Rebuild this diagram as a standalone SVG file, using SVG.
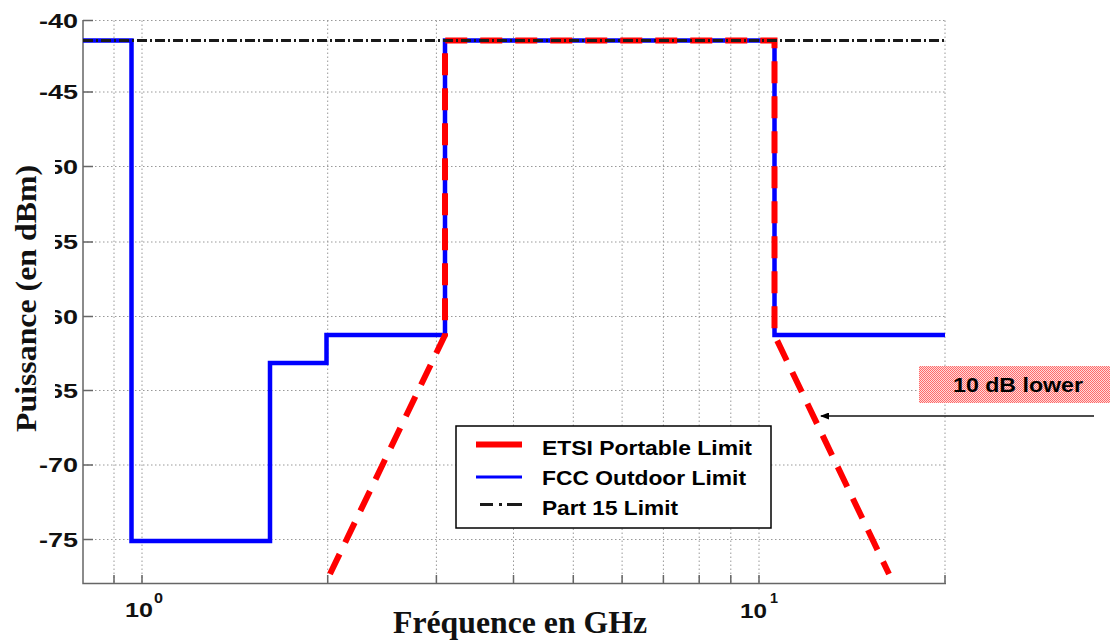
<svg xmlns="http://www.w3.org/2000/svg" width="1110" height="641" viewBox="0 0 1110 641">
<style>
.grid{stroke:#999;stroke-width:1;stroke-dasharray:1.5 2.5;fill:none}
.axis{stroke:#666;stroke-width:1.5;fill:none}
.tk{font-family:"Liberation Sans",Arial,sans-serif;font-weight:bold;font-size:20px;fill:#111}
.lab{font-family:"Liberation Serif","Times New Roman",serif;font-weight:bold;fill:#111}
.fcc{stroke:#0000ff;stroke-width:4.5;fill:none;stroke-linejoin:miter}
.etsi{stroke:#ff0000;stroke-width:6;fill:none;stroke-dasharray:22 13}
.p15{stroke:#1a1a1a;stroke-width:3;fill:none;stroke-dasharray:10 3 2 3}
.leg{font-family:"Liberation Sans",Arial,sans-serif;font-weight:bold;font-size:19.5px;fill:#000}
</style>
<defs>
<pattern id="hatch" width="2" height="2" patternUnits="userSpaceOnUse">
<rect width="2" height="2" fill="#ffdada"/>
<rect width="1" height="1" fill="#ff6a6a"/>
<rect x="1" y="1" width="1" height="1" fill="#ff6a6a"/>
</pattern>
<marker id="arr" markerWidth="9" markerHeight="7" refX="8" refY="3.5" orient="auto" markerUnits="userSpaceOnUse">
<path d="M0,0 L9,3.5 L0,7 z" fill="#000"/>
</marker>
</defs>
<rect width="1110" height="641" fill="#fff"/>

<g id="grid">
<path class="grid" d="M83,20.5H945 M83,92H945 M83,166.5H945 M83,242H945 M83,316.5H945 M83,390.5H945 M83,465H945 M83,539.5H945"/>
<path class="grid" d="M114,20.5V583 M142,20.5V583 M327.7,20.5V583 M436.4,20.5V583 M513.5,20.5V583 M573.3,20.5V583 M622.1,20.5V583 M663.4,20.5V583 M699.2,20.5V583 M730.8,20.5V583 M759,20.5V583 M945,20.5V583"/>
</g>

<g id="axes">
<path class="axis" d="M83,20V583.5H946"/>
<path class="axis" d="M83,20.5H93 M83,92H93 M83,166.5H93 M83,242H93 M83,316.5H93 M83,390.5H93 M83,465H93 M83,539.5H93"/>
<path class="axis" d="M114,583V575 M142,583V575 M327.7,583V575 M436.4,583V575 M513.5,583V575 M573.3,583V575 M622.1,583V575 M663.4,583V575 M699.2,583V575 M730.8,583V575 M759,583V575 M945,583V575"/>
<g id="yticks">
<text class="tk" x="39" y="27.5" textLength="39" lengthAdjust="spacingAndGlyphs">-40</text>
<text class="tk" x="39" y="99" textLength="39" lengthAdjust="spacingAndGlyphs">-45</text>
<text class="tk" x="39" y="173.5" textLength="39" lengthAdjust="spacingAndGlyphs">-50</text>
<text class="tk" x="39" y="249" textLength="39" lengthAdjust="spacingAndGlyphs">-55</text>
<text class="tk" x="39" y="323.5" textLength="39" lengthAdjust="spacingAndGlyphs">-60</text>
<text class="tk" x="39" y="397.5" textLength="39" lengthAdjust="spacingAndGlyphs">-65</text>
<text class="tk" x="39" y="472" textLength="39" lengthAdjust="spacingAndGlyphs">-70</text>
<text class="tk" x="39" y="546.5" textLength="39" lengthAdjust="spacingAndGlyphs">-75</text>
</g>
<g id="xticks">
<text class="tk" x="125" y="617" style="font-size:21px" textLength="28" lengthAdjust="spacingAndGlyphs">10</text>
<text class="tk" x="154" y="603" style="font-size:15px" textLength="9" lengthAdjust="spacingAndGlyphs">0</text>
<text class="tk" x="740" y="618" style="font-size:21px" textLength="27" lengthAdjust="spacingAndGlyphs">10</text>
<text class="tk" x="770" y="603" style="font-size:15px" textLength="8" lengthAdjust="spacingAndGlyphs">1</text>
</g>
</g>

<g id="ylabel">
<rect x="0" y="140" width="55" height="300" fill="#fff"/>
<text class="lab" transform="translate(36,298.5) rotate(-90)" x="0" y="0" text-anchor="middle" style="font-size:30px" textLength="267" lengthAdjust="spacingAndGlyphs">Puissance (en dBm)</text>
</g>
<g id="xlabel">
<text class="lab" x="520" y="633" text-anchor="middle" style="font-size:31px" textLength="254" lengthAdjust="spacingAndGlyphs">Fréquence en GHz</text>
</g>

<g id="curves">
<path id="fcc" class="fcc" d="M83,40.5H131.5V541H270V363H326.5V335H445V40.5H774.5V335H945"/>
<path id="etsi" class="etsi" d="M330,574L445,335V40.5H774.5V335L889,574"/>
<path id="part15" class="p15" d="M83,40.5H945"/>
</g>

<g id="legend">
<rect x="456" y="426" width="315" height="102" fill="#fff" stroke="#000" stroke-width="1.5"/>
<line x1="476" y1="444.5" x2="522" y2="444.5" stroke="#ff0000" stroke-width="6"/>
<text class="leg" x="542" y="455" textLength="210" lengthAdjust="spacingAndGlyphs">ETSI Portable Limit</text>
<line x1="476" y1="477" x2="522" y2="477" stroke="#0000ff" stroke-width="3"/>
<text class="leg" x="542" y="485" textLength="204" lengthAdjust="spacingAndGlyphs">FCC Outdoor Limit</text>
<line x1="480" y1="504.5" x2="522" y2="504.5" stroke="#1a1a1a" stroke-width="3" stroke-dasharray="13 6 3 5 20"/>
<text class="leg" x="542" y="515" textLength="136" lengthAdjust="spacingAndGlyphs">Part 15 Limit</text>
</g>

<g id="annotation">
<rect x="919" y="366" width="191" height="37" fill="url(#hatch)"/>
<text class="leg" x="953" y="392" style="font-size:21px" textLength="130" lengthAdjust="spacingAndGlyphs">10 dB lower</text>
<line x1="1094" y1="416" x2="821" y2="416" stroke="#111" stroke-width="1.5" marker-end="url(#arr)"/>
</g>
</svg>
